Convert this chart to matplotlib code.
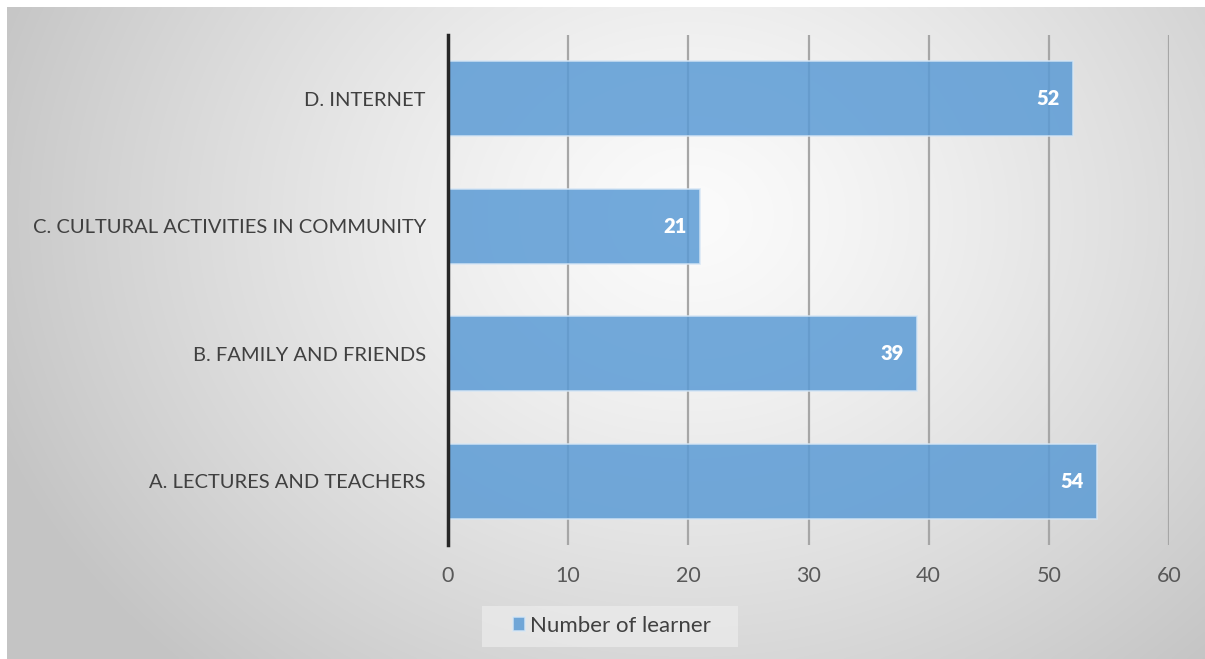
import numpy as np
import matplotlib
matplotlib.use("Agg")
import matplotlib.pyplot as plt
from matplotlib.patches import Rectangle

categories = ["A. LECTURES AND TEACHERS", "B. FAMILY AND FRIENDS",
              "C. CULTURAL ACTIVITIES IN COMMUNITY", "D. INTERNET"]
learners = [54, 39, 21, 52]
series_name = "Number of learner"
x_ticks = [0, 10, 20, 30, 40, 50, 60]

plt.rcParams["font.family"] = ["Lato", "DejaVu Sans"]

W, H = 1205, 659
fig = plt.figure(figsize=(W / 100, H / 100), dpi=100)
fig.patch.set_facecolor("white")

# radial gradient backdrop of the chart area
bg = fig.add_axes([7 / W, 0, 1 - 7 / W, (H - 7) / H], zorder=-10)
ny, nx = 330, 600
yy, xx = np.mgrid[0:ny, 0:nx]
cx, cy = nx * 0.57, ny * 0.32
r = np.sqrt(((xx - cx) / (nx * 0.62)) ** 2 + ((yy - cy) / (ny * 0.95)) ** 2)
r = np.clip(r, 0, 1)
val = 0.985 - (0.985 - 0.77) * r ** 1.3
bg.imshow(np.dstack([val, val, val]), aspect="auto", extent=[0, 1, 0, 1],
          origin="upper", interpolation="bicubic")
bg.set_axis_off()

ax = fig.add_axes([448 / W, (H - 545) / H, 721 / W, 510 / H])
ax.set_facecolor("none")

ypos = np.arange(len(categories))
bars = ax.barh(ypos, learners, height=0.59, color="#5B9BD5", alpha=0.85,
               edgecolor="#D6E6F5", linewidth=1.2, zorder=3)

for y, v in zip(ypos, learners):
    ax.text(v - 1.1, y, str(v), ha="right", va="center", color="white",
            fontsize=14.5, fontweight="heavy", zorder=4)

ax.set_xlim(0, 60)
ax.set_ylim(-0.5, 3.5)
ax.set_xticks(x_ticks)
ax.set_xticklabels([str(t) for t in x_ticks])
ax.set_yticks(ypos)
ax.set_yticklabels(categories)

ax.grid(axis="x", color="#A6A6A6", linewidth=1.6, zorder=1)
ax.grid(axis="y", visible=False)
for side in ("top", "right", "bottom"):
    ax.spines[side].set_visible(False)
ax.spines["left"].set_color("#262626")
ax.spines["left"].set_linewidth(2.5)
ax.spines["left"].set_zorder(5)

ax.tick_params(axis="x", length=0, pad=15, labelsize=15.5, labelcolor="#595959")
ax.tick_params(axis="y", length=0, pad=16, labelsize=14.5, labelcolor="#404040")

# legend panel behind the legend entry
fig.patches.append(Rectangle((482 / W, (H - 647) / H), 256 / W, 41 / H,
                             transform=fig.transFigure, facecolor="#EEEEEE",
                             alpha=0.65, edgecolor="none", zorder=-5))
leg = ax.legend([bars], [series_name], loc="center",
                bbox_to_anchor=((612 - 448) / 721, -(626 - 545) / 510),
                frameon=False, fontsize=16, handlelength=0.55, handleheight=0.55,
                handletextpad=0.25, borderpad=0.5, borderaxespad=0)
for t in leg.get_texts():
    t.set_color("#404040")

fig.savefig("out.png", dpi=100)
